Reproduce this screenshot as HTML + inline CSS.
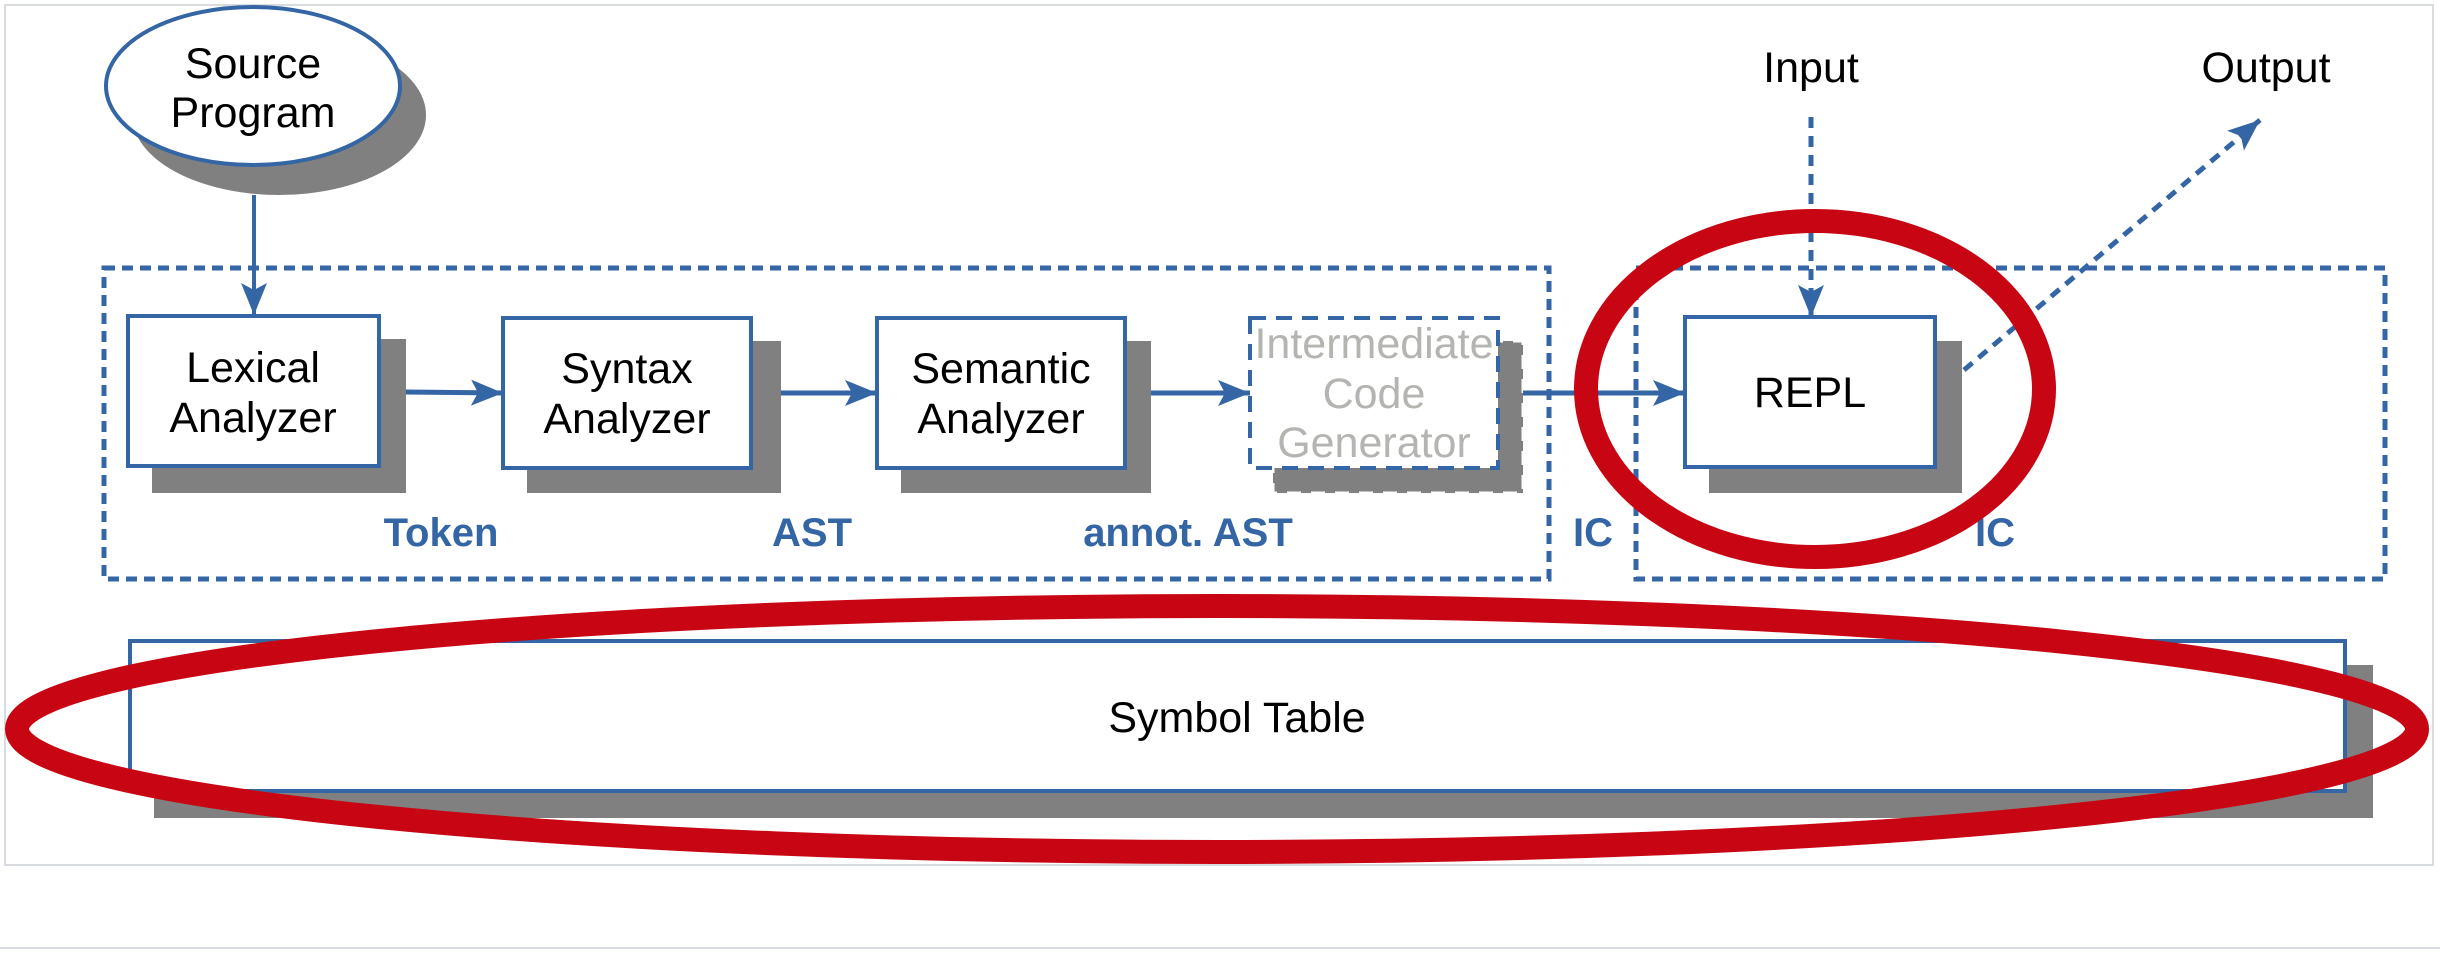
<!DOCTYPE html>
<html><head><meta charset="utf-8"><style>
html,body{margin:0;padding:0;background:#fff;}
svg{display:block;}
text{font-family:"Liberation Sans",sans-serif;}
</style></head><body>
<svg width="2440" height="954" viewBox="0 0 2440 954" xmlns="http://www.w3.org/2000/svg">
<defs>
<marker id="ah" markerWidth="34" markerHeight="26" refX="32" refY="13" orient="auto" markerUnits="userSpaceOnUse">
<path d="M0,0 L32,13 L0,26 L7,13 Z" fill="#3465a4"/>
</marker>
</defs>
<rect x="5" y="5" width="2428" height="860" fill="#fff" stroke="#d8dbe0" stroke-width="2"/>
<line x1="0" y1="948" x2="2440" y2="948" stroke="#d8dbe0" stroke-width="2"/>

<!-- Source Program -->
<ellipse cx="279" cy="115" rx="147" ry="80" fill="#808080"/>
<ellipse cx="253" cy="86" rx="147" ry="79" fill="#fff" stroke="#3465a4" stroke-width="4"/>
<text x="253" y="78" font-size="43" text-anchor="middle">Source</text>
<text x="253" y="127" font-size="43" text-anchor="middle">Program</text>
<line x1="254" y1="195" x2="254" y2="315" stroke="#3465a4" stroke-width="4" marker-end="url(#ah)"/>

<!-- dashed boxes -->
<rect x="104" y="268" width="1445" height="311" fill="none" stroke="#3465a4" stroke-width="5" stroke-dasharray="11,7"/>
<rect x="1636" y="268" width="749" height="311" fill="none" stroke="#3465a4" stroke-width="5" stroke-dasharray="11,7"/>

<!-- Lexical -->
<rect x="152" y="339" width="254" height="154" fill="#808080"/>
<rect x="128" y="316" width="251" height="150" fill="#fff" stroke="#3465a4" stroke-width="4"/>
<text x="253" y="382" font-size="43" text-anchor="middle">Lexical</text>
<text x="253" y="432" font-size="43" text-anchor="middle">Analyzer</text>
<!-- Syntax -->
<rect x="527" y="341" width="254" height="152" fill="#808080"/>
<rect x="503" y="318" width="248" height="150" fill="#fff" stroke="#3465a4" stroke-width="4"/>
<text x="627" y="383" font-size="43" text-anchor="middle">Syntax</text>
<text x="627" y="433" font-size="43" text-anchor="middle">Analyzer</text>
<!-- Semantic -->
<rect x="901" y="341" width="250" height="152" fill="#808080"/>
<rect x="877" y="318" width="248" height="150" fill="#fff" stroke="#3465a4" stroke-width="4"/>
<text x="1001" y="383" font-size="43" text-anchor="middle">Semantic</text>
<text x="1001" y="433" font-size="43" text-anchor="middle">Analyzer</text>
<!-- Intermediate -->
<rect x="1273" y="341" width="250" height="152" fill="#808080"/>
<rect x="1273" y="341" width="250" height="152" fill="none" stroke="#fff" stroke-width="3" stroke-dasharray="14,10"/>
<rect x="1250" y="318" width="248" height="150" fill="#fff" stroke="#3465a4" stroke-width="4" stroke-dasharray="16,10"/>
<text x="1374" y="358" font-size="43" text-anchor="middle" fill="#b4b4b0">Intermediate</text>
<text x="1374" y="408" font-size="43" text-anchor="middle" fill="#b4b4b0">Code</text>
<text x="1374" y="457" font-size="43" text-anchor="middle" fill="#b4b4b0">Generator</text>
<!-- REPL -->
<rect x="1709" y="341" width="253" height="152" fill="#808080"/>
<rect x="1685" y="317" width="250" height="150" fill="#fff" stroke="#3465a4" stroke-width="4"/>
<text x="1810" y="407" font-size="43" text-anchor="middle">REPL</text>

<!-- arrows -->
<line x1="406" y1="392" x2="503" y2="393" stroke="#3465a4" stroke-width="5" marker-end="url(#ah)"/>
<line x1="781" y1="393" x2="877" y2="393" stroke="#3465a4" stroke-width="5" marker-end="url(#ah)"/>
<line x1="1151" y1="393" x2="1250" y2="393" stroke="#3465a4" stroke-width="5" marker-end="url(#ah)"/>
<line x1="1523" y1="393" x2="1685" y2="393" stroke="#3465a4" stroke-width="5" marker-end="url(#ah)"/>
<line x1="1811" y1="117" x2="1811" y2="317" stroke="#3465a4" stroke-width="5" stroke-dasharray="11,8" marker-end="url(#ah)"/>
<line x1="1964" y1="370" x2="2260" y2="120" stroke="#3465a4" stroke-width="5" stroke-dasharray="11,8" marker-end="url(#ah)"/>
<text x="1811" y="82" font-size="43" text-anchor="middle">Input</text>
<text x="2266" y="82" font-size="43" text-anchor="middle">Output</text>

<!-- labels -->
<g font-weight="bold" font-size="40" fill="#3465a4" text-anchor="middle">
<text x="441" y="546">Token</text>
<text x="812" y="546">AST</text>
<text x="1188" y="546">annot. AST</text>
<text x="1593" y="546">IC</text>
<text x="1995" y="546">IC</text>
</g>

<!-- Symbol table -->
<rect x="154" y="665" width="2219" height="153" fill="#808080"/>
<rect x="130" y="641" width="2215" height="150" fill="#fff" stroke="#3465a4" stroke-width="4"/>
<text x="1237" y="732" font-size="43" text-anchor="middle">Symbol Table</text>

<!-- red ellipses -->
<ellipse cx="1217" cy="729" rx="1200" ry="123" fill="none" stroke="#c80613" stroke-width="24"/>
<ellipse cx="1815" cy="389" rx="229" ry="168" fill="none" stroke="#c80613" stroke-width="24"/>
</svg>
</body></html>
